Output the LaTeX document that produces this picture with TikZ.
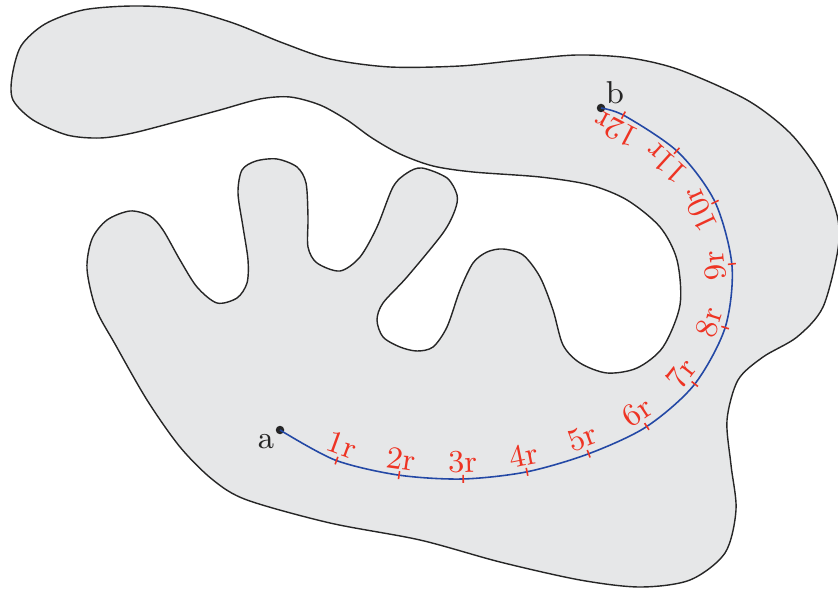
\documentclass[tikz,border=0pt]{standalone}
\usepackage{tikz}
\usetikzlibrary{decorations.markings}
\definecolor{regiongray}{RGB}{230,231,232}
\definecolor{pathblue}{RGB}{35,72,165}
\definecolor{markred}{RGB}{238,52,36}
\tikzstyle{region} = [draw=black!85, fill=regiongray, line width=0.4pt]
\tikzstyle{endpoint} = [circle, fill=black!85, inner sep=0pt, minimum size=0.85mm]
\tikzstyle{route} = [pathblue, line width=0.45pt]
\tikzstyle{tick} = [markred, line width=0.45pt]
\tikzstyle{steplabel} = [markred, above, inner sep=1.5pt, transform shape, font=\small]
\tikzstyle{endlabel} = [black!85, inner sep=0pt, font=\small]

\begin{document}
\begin{tikzpicture}
\useasboundingbox (0,0) rectangle (8.38,5.89);
\draw [region] plot [smooth cycle] coordinates {
  (0.12,5.12) (0.21,5.43) (0.45,5.65) (0.83,5.79) (1.33,5.83) (1.83,5.80)
  (2.33,5.66) (2.83,5.46) (3.30,5.30) (3.90,5.22) (4.60,5.23) (5.20,5.29)
  (5.77,5.34) (6.30,5.31) (6.80,5.19) (7.47,4.89) (7.90,4.56) (8.20,4.16)
  (8.37,3.74) (8.38,3.40) (8.23,2.82) (7.97,2.52) (7.63,2.32) (7.38,2.09)
  (7.27,1.69) (7.31,1.24) (7.36,0.79) (7.25,0.36) (6.90,0.09) (6.40,0.02)
  (5.80,0.09) (5.00,0.27) (4.20,0.49) (3.30,0.66) (2.47,0.89) (2.13,1.09)
  (1.80,1.42) (1.47,1.89) (1.15,2.45) (0.96,2.80) (0.87,3.20) (0.92,3.50)
  (1.07,3.69) (1.30,3.78) (1.50,3.73) (1.63,3.59) (1.80,3.29) (1.97,3.02)
  (2.17,2.86) (2.37,2.91) (2.47,3.06) (2.48,3.29) (2.43,3.62) (2.38,3.96)
  (2.42,4.19) (2.56,4.28) (2.77,4.30) (2.97,4.22) (3.06,4.06) (3.08,3.72)
  (3.08,3.42) (3.17,3.26) (3.40,3.18) (3.60,3.32) (3.77,3.62) (3.93,4.02)
  (4.07,4.16) (4.22,4.21) (4.47,4.11) (4.57,3.94) (4.55,3.79) (4.43,3.56)
  (4.07,3.12) (3.83,2.86) (3.77,2.69) (3.83,2.52) (4.00,2.42) (4.17,2.38)
  (4.33,2.42) (4.47,2.62) (4.60,2.99) (4.73,3.26) (4.87,3.37) (5.03,3.40)
  (5.23,3.34) (5.40,3.12) (5.53,2.79) (5.63,2.44) (5.80,2.26) (6.07,2.16)
  (6.37,2.21) (6.63,2.42) (6.80,2.84) (6.77,3.29) (6.60,3.62) (6.27,3.89)
  (5.90,4.04) (5.40,4.12) (4.73,4.17) (4.33,4.23) (4.00,4.35) (3.72,4.51)
  (3.47,4.69) (3.20,4.84) (2.90,4.92) (2.60,4.90) (2.20,4.79) (1.83,4.69)
  (1.33,4.56) (1.00,4.51) (0.67,4.54) (0.33,4.69) (0.13,4.89)};
\node (a) [endpoint] at (2.80,1.59) {};
\node (b) [endpoint] at (6.01,4.81) {};
\node (alabel) [endlabel] at (2.66,1.47) {a};
\node (blabel) [endlabel] at (6.15,4.96) {b};
\draw [route, postaction={decorate, decoration={markings,
    mark=between positions 0.643cm and 7.75cm step 0.643cm with {
      \draw [tick] (0,-0.04) -- (0,0.04);
      \node (mark\pgfkeysvalueof{/pgf/decoration/mark info/sequence number}) [steplabel]
        {\pgfkeysvalueof{/pgf/decoration/mark info/sequence number}r};
    }}}]
  plot [smooth] coordinates {(a.center) (3.35,1.29) (3.98,1.14) (4.62,1.10)
    (5.26,1.17) (5.88,1.35) (6.46,1.62) (6.94,2.04) (7.25,2.61) (7.32,3.23)
    (7.15,3.87) (6.78,4.37) (6.25,4.73) (b.center)};
\end{tikzpicture}
\end{document}
